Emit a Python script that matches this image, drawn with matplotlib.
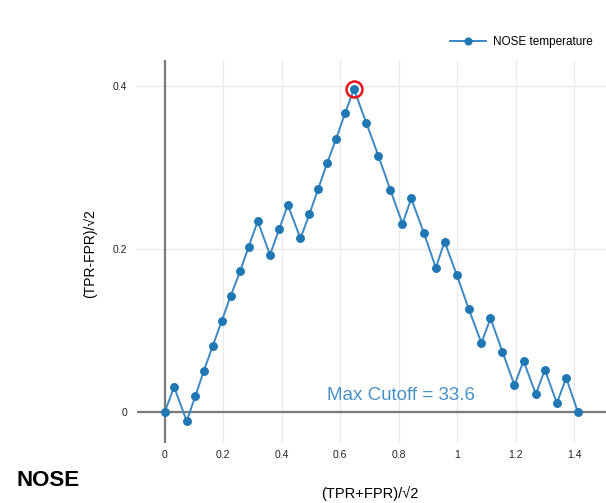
import numpy as np
import matplotlib.pyplot as plt

plt.rcParams['font.family'] = ['Liberation Sans', 'DejaVu Sans']

# ROC-style distance curve for the NOSE temperature sensor
x_vals = [0.000, 0.032, 0.075, 0.105, 0.134, 0.164, 0.195, 0.226, 0.258, 0.287,
          0.318, 0.360, 0.391, 0.421, 0.464, 0.495, 0.525, 0.555, 0.586, 0.617,
          0.647, 0.689, 0.731, 0.772, 0.813, 0.843, 0.886, 0.927, 0.957, 0.999,
          1.040, 1.083, 1.114, 1.155, 1.196, 1.227, 1.269, 1.300, 1.341, 1.373,
          1.413]
y_vals = [0.000, 0.031, -0.011, 0.020, 0.051, 0.081, 0.112, 0.143, 0.173, 0.203,
          0.234, 0.193, 0.224, 0.254, 0.213, 0.243, 0.274, 0.305, 0.335, 0.367,
          0.396, 0.355, 0.314, 0.272, 0.231, 0.262, 0.220, 0.177, 0.209, 0.168,
          0.126, 0.085, 0.115, 0.074, 0.033, 0.063, 0.022, 0.052, 0.011, 0.042,
          0.000]
series_name = 'NOSE temperature'
cutoff = 33.6
x_ticks = [0, 0.2, 0.4, 0.6, 0.8, 1, 1.2, 1.4]
y_ticks = [0, 0.2, 0.4]

blue = '#1f77b4'
axis_gray = '#7a7a7a'

fig = plt.figure(figsize=(6.06, 5.03), dpi=100)
ax = fig.add_axes([0.226, 0.119, 0.774, 0.762])

ax.set_xlim(-0.095, 1.509)
ax.set_ylim(-0.038, 0.432)

ax.grid(True, color='#ebebeb', linewidth=1)
ax.set_axisbelow(True)
ax.axhline(0, color=axis_gray, linewidth=1.6, zorder=1)
ax.axvline(0, color=axis_gray, linewidth=1.6, zorder=1)

line, = ax.plot(x_vals, y_vals, color='#3b88c4', linewidth=1.4, marker='o',
                markersize=5.4, markerfacecolor=blue, markeredgecolor=blue,
                label=series_name, zorder=3)

# highlight the best point
i_max = int(np.argmax(y_vals))
ax.plot(x_vals[i_max], y_vals[i_max], marker='o', markersize=11.5,
        markerfacecolor='none', markeredgecolor='#e8141c', markeredgewidth=1.8,
        zorder=4)

ax.text(0.555, 0.021, 'Max Cutoff = ' + str(cutoff), color='#4a90c9',
        fontsize=13.5, va='center', ha='left')

ax.set_xticks(x_ticks)
ax.set_xticklabels([str(t) for t in x_ticks])
ax.set_yticks(y_ticks)
ax.set_yticklabels([str(t) for t in y_ticks])
ax.tick_params(length=0, labelsize=7.5, colors='#222222')
ax.tick_params(axis='y', pad=7)
ax.tick_params(axis='x', pad=5)
for s in ax.spines.values():
    s.set_visible(False)

fig.text(0.61, 0.02, '(TPR+FPR)/\u221a2', fontsize=10.5, ha='center', va='center')
fig.text(0.148, 0.495, '(TPR-FPR)/\u221a2', fontsize=10, ha='center', va='center',
         rotation=90)
fig.text(0.028, 0.044, 'NOSE', fontsize=16, fontweight='bold', ha='left',
         va='center')

fig.legend(handles=[line], loc='center right', bbox_to_anchor=(0.995, 0.917),
           frameon=False, fontsize=8.5, handlelength=3.0, handletextpad=0.6,
           markerscale=0.9)

fig.savefig('out.png', dpi=100, facecolor='white')
